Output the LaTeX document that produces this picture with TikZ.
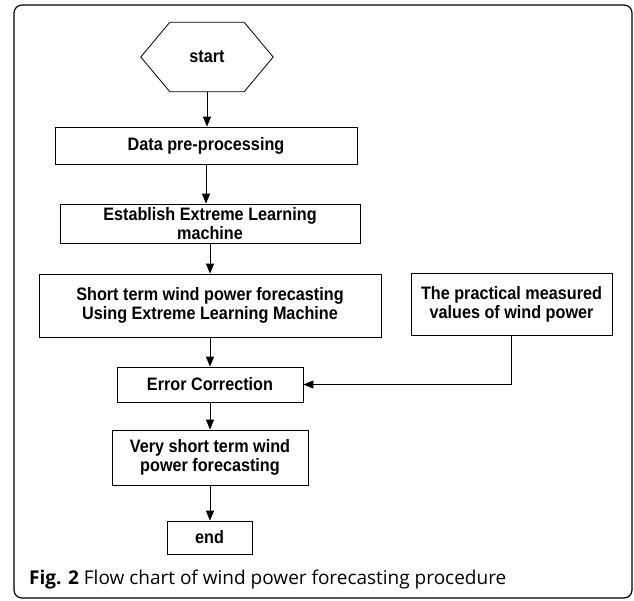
\documentclass[tikz,border=0pt]{standalone}
\usepackage{fontspec}
\setmainfont{Liberation Sans}[FakeStretch=0.9]
\newfontfamily\capfont{Open Sans}
\usetikzlibrary{arrows.meta}
\tikzstyle{every node}=[font=\fontsize{18}{19}\selectfont\bfseries,text=black,align=center,inner sep=0pt]
\tikzstyle{box}=[draw,line width=0.8pt]
\tikzstyle{flow}=[-{Triangle[length=10pt,width=8pt]},line width=0.9pt]

\begin{document}
\begin{tikzpicture}[x=1pt,y=-1pt]
\useasboundingbox (0,0) rectangle (634,600);
\draw[line width=1.2pt,rounded corners=8pt] (14,5) rectangle (632,598);
\node[minimum width=132pt,minimum height=69pt] (start) at (207,57) {start};
\draw[line width=0.8pt] (start.west) -- ([xshift=29pt]start.north west) -- ([xshift=-29pt]start.north east) -- (start.east) -- ([xshift=-29pt]start.south east) -- ([xshift=29pt]start.south west) -- cycle;
\node[box,minimum width=302pt,minimum height=37pt] (data) at (206,145.5) {Data pre-processing};
\node[box,minimum width=300pt,minimum height=39pt] (elm) at (210,223.5) {Establish Extreme Learning\\machine};
\node[box,minimum width=342pt,minimum height=63pt] (short) at (210,305.5) {Short term wind power forecasting\\Using Extreme Learning Machine};
\node[box,minimum width=201pt,minimum height=62pt] (meas) at (511.5,304) {The practical measured\\values of wind power};
\node[box,minimum width=186pt,minimum height=35pt] (error) at (210,384.5) {Error Correction};
\node[box,minimum width=196pt,minimum height=55pt] (vshort) at (210,457.5) {Very short term wind\\power forecasting};
\node[box,minimum width=85pt,minimum height=33pt] (end) at (209.5,537.5) {end};
\draw[flow] (start.south) -- (start.south |- data.north);
\draw[flow] (data.south) -- (data.south |- elm.north);
\draw[flow] (elm.south) -- (elm.south |- short.north);
\draw[flow] (short.south) -- (short.south |- error.north);
\draw[flow] (error.south) -- (error.south |- vshort.north);
\draw[flow] (vshort.south) -- (vshort.south |- end.north);
\draw[flow] (meas.south) |- (error.east);
\node[anchor=west,font=\capfont\fontsize{19}{20}\selectfont] (caption) at (29,580) {\textbf{Fig. 2} Flow chart of wind power forecasting procedure};
\end{tikzpicture}
\end{document}
